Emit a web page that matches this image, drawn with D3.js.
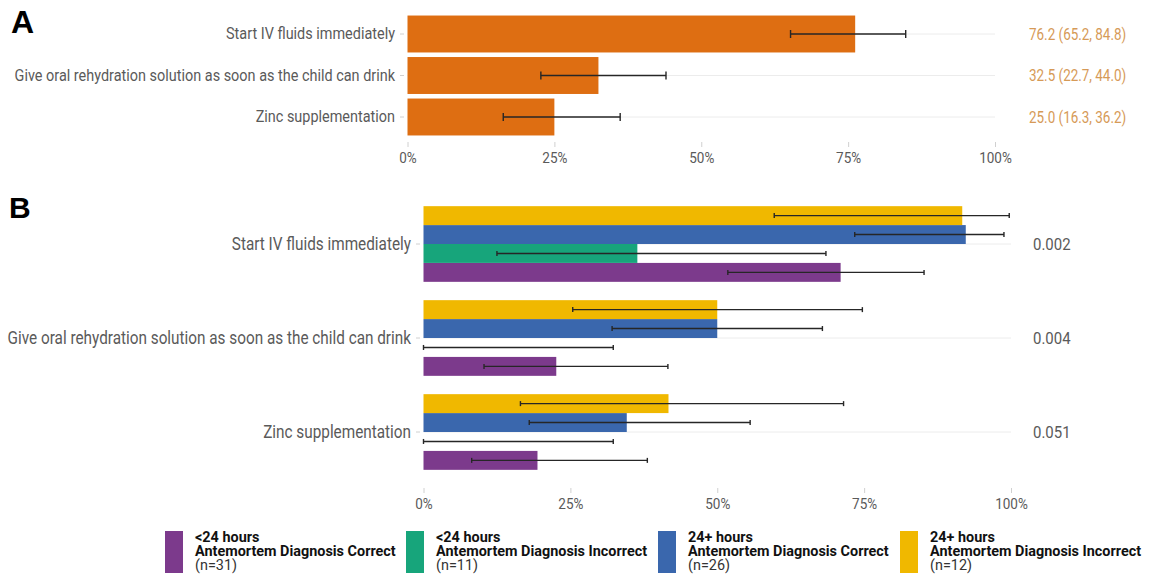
<!DOCTYPE html>
<html>
<head>
<meta charset="utf-8">
<script src="https://cdn.jsdelivr.net/npm/d3@7"></script>
<style>
  html, body { margin: 0; padding: 0; background: #fff; }
  svg { display: block; font-family: Roboto, "Noto Sans", sans-serif; }
</style>
</head>
<body>
<svg id="chart" width="1159" height="577"></svg>
<script>
// Recommended treatment actions
const categories = [
  "Start IV fluids immediately",
  "Give oral rehydration solution as soon as the child can drink",
  "Zinc supplementation"
];

// Panel A: overall percentage with 95% CI
const overallPct  = [76.2, 32.5, 25.0];
const overallLow  = [65.2, 22.7, 16.3];
const overallHigh = [84.8, 44.0, 36.2];

// Panel B: by time to death and antemortem diagnosis
const groupTime  = ["<24 hours", "<24 hours", "24+ hours", "24+ hours"];
const groupDiag  = ["Antemortem Diagnosis Correct", "Antemortem Diagnosis Incorrect",
                    "Antemortem Diagnosis Correct", "Antemortem Diagnosis Incorrect"];
const groupN     = [31, 11, 26, 12];
const groupColor = ["#7c3a8c", "#17a57b", "#3a67ad", "#f0b800"];

const lt24CorrectPct    = [71.0, 22.6, 19.4];
const lt24CorrectLow    = [51.8, 10.3, 8.2];
const lt24CorrectHigh   = [85.2, 41.6, 38.1];

const lt24IncorrectPct  = [36.4, 0, 0];
const lt24IncorrectLow  = [12.5, 0, 0];
const lt24IncorrectHigh = [68.5, 32.3, 32.3];

const ge24CorrectPct    = [92.3, 50.0, 34.6];
const ge24CorrectLow    = [73.4, 32.1, 18.0];
const ge24CorrectHigh   = [98.8, 67.9, 55.6];

const ge24IncorrectPct  = [91.7, 50.0, 41.7];
const ge24IncorrectLow  = [59.7, 25.4, 16.5];
const ge24IncorrectHigh = [99.7, 74.7, 71.5];

const pValues = ["0.002", "0.004", "0.051"];
const xTicks = [0, 25, 50, 75, 100];

const groupPct  = [lt24CorrectPct, lt24IncorrectPct, ge24CorrectPct, ge24IncorrectPct];
const groupLow  = [lt24CorrectLow, lt24IncorrectLow, ge24CorrectLow, ge24IncorrectLow];
const groupHigh = [lt24CorrectHigh, lt24IncorrectHigh, ge24CorrectHigh, ge24IncorrectHigh];

const svg = d3.select("#chart");
const TEXT = "#5a5a5a";
const GRID = "#ececec";
const SQUEEZE = 0.875;   // narrow the glyphs to a condensed look

function condense(sel, f) {
  sel.each(function () {
    const w = this.getComputedTextLength();
    this.setAttribute("textLength", w * f);
    this.setAttribute("lengthAdjust", "spacingAndGlyphs");
  });
}

function drawAxis(g, x, y0) {
  const ax = g.append("g").attr("transform", `translate(0,${y0})`)
    .call(d3.axisBottom(x).tickValues(xTicks).tickFormat(d => d + "%").tickSize(5).tickPadding(5));
  ax.select(".domain").remove();
  ax.selectAll(".tick line").attr("stroke", "#d0d0d0");
  ax.selectAll(".tick text").attr("fill", TEXT).attr("font-size", 15)
    .attr("font-family", "Roboto").call(condense, 0.9);
}

function drawCategoryAxis(g, y, x0, size) {
  const ax = g.append("g").attr("transform", `translate(${x0},0)`)
    .call(d3.axisLeft(y).tickSize(4).tickPadding(5));
  ax.select(".domain").remove();
  ax.selectAll(".tick line").attr("stroke", "#d0d0d0");
  ax.selectAll(".tick text").attr("fill", TEXT).attr("font-size", size)
    .attr("font-family", "Roboto").call(condense, SQUEEZE);
}

function errorBar(g, x, yc, lo, hi, cap) {
  g.append("line").attr("x1", x(lo)).attr("x2", x(hi)).attr("y1", yc).attr("y2", yc)
    .attr("stroke", "#262626").attr("stroke-width", 1.4);
  [lo, hi].forEach(v => g.append("line").attr("x1", x(v)).attr("x2", x(v))
    .attr("y1", yc - cap / 2).attr("y2", yc + cap / 2)
    .attr("stroke", "#262626").attr("stroke-width", 1.4));
}

function draw() {
  // ---------- Panel A ----------
  const xA = d3.scaleLinear().domain([0, 100]).range([407.5, 995]);
  const yA = d3.scaleBand().domain(categories).range([13.25, 137.75])
    .paddingInner(0.11).paddingOuter(0.055);
  const gA = svg.append("g");

  gA.selectAll("line.grid").data(categories).join("line")
    .attr("x1", xA(0)).attr("x2", xA(100))
    .attr("y1", d => yA(d) + yA.bandwidth() / 2).attr("y2", d => yA(d) + yA.bandwidth() / 2)
    .attr("stroke", GRID).attr("stroke-width", 1);

  gA.selectAll("rect").data(categories).join("rect")
    .attr("x", xA(0)).attr("y", d => yA(d))
    .attr("width", (d, i) => xA(overallPct[i]) - xA(0))
    .attr("height", yA.bandwidth())
    .attr("fill", "#de6e12");

  categories.forEach((c, i) =>
    errorBar(gA, xA, yA(c) + yA.bandwidth() / 2, overallLow[i], overallHigh[i], 8));

  gA.selectAll("text.val").data(categories).join("text")
    .attr("x", 1029).attr("y", d => yA(d) + yA.bandwidth() / 2).attr("dy", "0.35em")
    .attr("fill", "#d69a57").attr("font-size", 16)
    .text((d, i) => `${overallPct[i].toFixed(1)} (${overallLow[i].toFixed(1)}, ${overallHigh[i].toFixed(1)})`)
    .call(condense, 0.84);

  drawCategoryAxis(gA, yA, 404, 16.5);
  drawAxis(gA, xA, 142);

  svg.append("text").attr("x", 11).attr("y", 33).attr("font-family", "Liberation Sans, Arial")
    .attr("font-weight", "bold").attr("font-size", 32).attr("fill", "#000").text("A");

  // ---------- Panel B ----------
  const xB = d3.scaleLinear().domain([0, 100]).range([423.5, 1011]);
  const yB = d3.scaleBand().domain(categories).range([197, 479])
    .paddingInner(0.195).paddingOuter(0.0975);
  const inner = d3.scaleBand().domain([3, 2, 1, 0]).range([0, yB.bandwidth()]);
  const gB = svg.append("g");

  gB.selectAll("line.grid").data(categories).join("line")
    .attr("x1", xB(0)).attr("x2", xB(100))
    .attr("y1", d => yB(d) + yB.bandwidth() / 2).attr("y2", d => yB(d) + yB.bandwidth() / 2)
    .attr("stroke", GRID).attr("stroke-width", 1);

  const cells = [];
  categories.forEach((c, ci) => groupPct.forEach((arr, gi) =>
    cells.push({ c, ci, gi, v: arr[ci], lo: groupLow[gi][ci], hi: groupHigh[gi][ci] })));

  gB.selectAll("rect").data(cells).join("rect")
    .attr("x", xB(0)).attr("y", d => yB(d.c) + inner(d.gi))
    .attr("width", d => xB(d.v) - xB(0))
    .attr("height", inner.bandwidth())
    .attr("fill", d => groupColor[d.gi]);

  cells.forEach(d =>
    errorBar(gB, xB, yB(d.c) + inner(d.gi) + inner.bandwidth() / 2, d.lo, d.hi, 5));

  gB.selectAll("text.p").data(categories).join("text")
    .attr("x", 1033).attr("y", d => yB(d) + yB.bandwidth() / 2).attr("dy", "0.35em")
    .attr("fill", TEXT).attr("font-size", 17)
    .text((d, i) => pValues[i])
    .call(condense, 0.88);

  drawCategoryAxis(gB, yB, 420, 17.5);
  drawAxis(gB, xB, 488);

  svg.append("text").attr("x", 9).attr("y", 218).attr("font-family", "Liberation Sans, Arial")
    .attr("font-weight", "bold").attr("font-size", 30).attr("fill", "#000").text("B");

  // ---------- Legend ----------
  const legendX = [165, 406, 658, 900];
  const lg = svg.append("g");
  groupN.forEach((n, i) => {
    const item = lg.append("g").attr("transform", `translate(${legendX[i]},531)`);
    item.append("rect").attr("width", 18).attr("height", 42).attr("fill", groupColor[i]);
    item.append("text").attr("x", 30).attr("y", 11).attr("font-weight", "bold")
      .attr("font-size", 15).attr("fill", "#111").text(groupTime[i]).call(condense, 0.96);
    item.append("text").attr("x", 30).attr("y", 25).attr("font-weight", "bold")
      .attr("font-size", 15).attr("fill", "#111").text(groupDiag[i]).call(condense, 0.96);
    item.append("text").attr("x", 30).attr("y", 39)
      .attr("font-size", 15).attr("fill", "#333").text(`(n=${n})`).call(condense, 0.96);
  });
}

(document.fonts && document.fonts.ready ? document.fonts.ready : Promise.resolve()).then(draw);
</script>
</body>
</html>
